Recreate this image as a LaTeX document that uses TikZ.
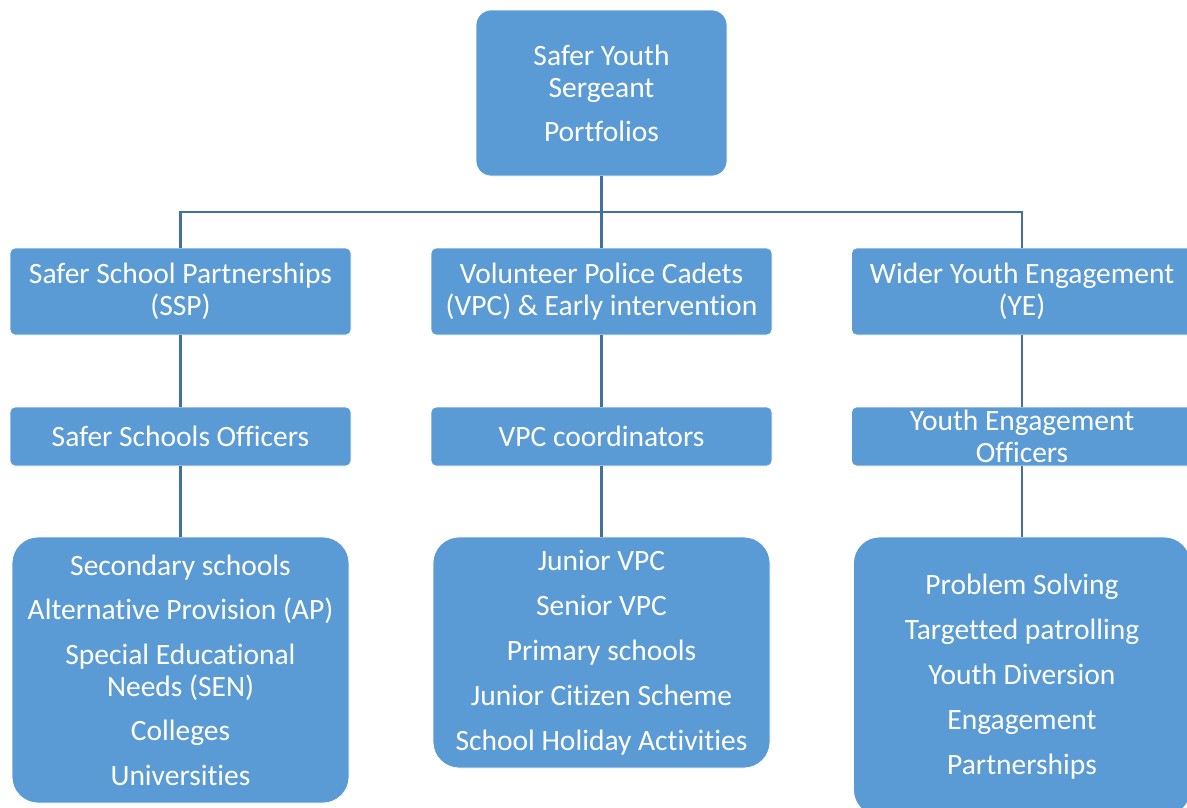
\documentclass[tikz,border=0pt]{standalone}
\usepackage{fontspec}
\setmainfont{Carlito}[RawFeature={-liga;-clig;-calt;-dlig}]
\definecolor{boxblue}{RGB}{91,155,213}
\definecolor{linkblue}{RGB}{65,113,156}
\begin{document}
\begin{tikzpicture}[x=1pt,y=-1pt,
  box/.style={draw=white,line width=0.8pt,fill=boxblue,text=white,align=center,
    inner sep=0pt,rounded corners=5pt,minimum width=341pt,font=\fontsize{29.5}{32}\selectfont},
  list/.style={box,rounded corners=26pt,minimum width=337pt},
  link/.style={draw=linkblue,line width=2.5pt}]
  \useasboundingbox (0,0) rectangle (1187,807);

  \node[box,rounded corners=15pt,minimum width=251pt,minimum height=166pt](syp) at (601.5,93)
    {Safer Youth\\Sergeant\\[12pt]Portfolios};

  \node[box,minimum height=87pt](ssp) at (180.5,291.5) {Safer School Partnerships\\(SSP)};
  \node[box,minimum height=87pt](vpc) at (601.5,291.5) {Volunteer Police Cadets\\(VPC) \& Early intervention};
  \node[box,minimum height=87pt](yeng) at (1022,291.5) {Wider Youth Engagement\\(YE)};

  \node[box,minimum height=59pt](sso) at (180.5,436.5) {Safer Schools Officers};
  \node[box,minimum height=59pt](vpcc) at (601.5,436.5) {VPC coordinators};
  \node[box,minimum height=59pt](yeo) at (1022,436.5) {Youth Engagement\\Officers};

  \node[list,minimum height=266pt](sslist) at (180.5,670)
    {Secondary schools\\[12.5pt]Alternative Provision (AP)\\[12.5pt]Special Educational\\Needs (SEN)\\[12.5pt]Colleges\\[12.5pt]Universities};
  \node[list,minimum height=231pt](vpclist) at (601.5,652.5)
    {Junior VPC\\[13pt]Senior VPC\\[13pt]Primary schools\\[13pt]Junior Citizen Scheme\\[13pt]School Holiday Activities};
  \node[list,minimum height=279pt](yelist) at (1022,676.5)
    {Problem Solving\\[13pt]Targetted patrolling\\[13pt]Youth Diversion\\[13pt]Engagement\\[13pt]Partnerships};

  \coordinate (bus) at (601.5,212);
  \draw[link] (syp) -- (vpc);
  \draw[link] (ssp.north) |- (bus) -| (yeng.north);
  \draw[link] (ssp) -- (sso);
  \draw[link] (vpc) -- (vpcc);
  \draw[link] (yeng) -- (yeo);
  \draw[link] (sso) -- (sslist);
  \draw[link] (vpcc) -- (vpclist);
  \draw[link] (yeo) -- (yelist);
\end{tikzpicture}
\end{document}
